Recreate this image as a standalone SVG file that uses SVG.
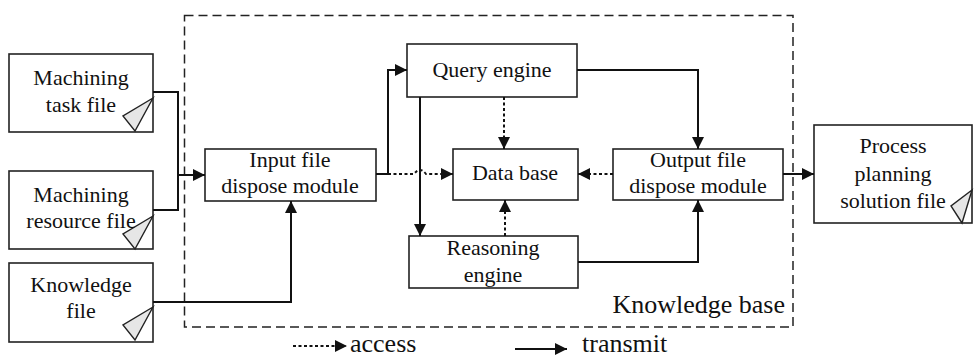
<svg xmlns="http://www.w3.org/2000/svg" width="974" height="358" viewBox="0 0 974 358">
  <defs>
    <marker id="head" viewBox="0 0 12 12" refX="12" refY="6" markerWidth="12" markerHeight="12" markerUnits="userSpaceOnUse" orient="auto">
      <path d="M0,0 L12,6 L0,12 Z" fill="#111" stroke="none"/>
    </marker>
    <!-- file page corner -->
    <polygon id="ear" points="0,0 -30,18 -18,33" fill="#e6e6e6" stroke="#222" stroke-width="1.4"/>
  </defs>

  <rect width="974" height="358" fill="#fff"/>

  <!-- knowledge base boundary -->
  <g id="knowledge-base">
    <rect x="184.5" y="15.5" width="608.5" height="311.5" fill="none" stroke="#222" stroke-width="1.5" stroke-dasharray="9 5"/>
    <text x="785" y="313" font-family="Liberation Serif" font-size="26" fill="#111" text-anchor="end">Knowledge base</text>
  </g>

  <!-- input files -->
  <g id="machining-task-file">
    <rect x="9" y="54" width="144" height="78" fill="#fff" stroke="#222" stroke-width="1.6"/>
    <use href="#ear" x="153" y="98"/>
    <text x="81" y="85" font-family="Liberation Serif" font-size="22" fill="#111" text-anchor="middle">Machining</text>
    <text x="81" y="112" font-family="Liberation Serif" font-size="22" fill="#111" text-anchor="middle">task file</text>
  </g>
  <g id="machining-resource-file">
    <rect x="9" y="171" width="144" height="78" fill="#fff" stroke="#222" stroke-width="1.6"/>
    <use href="#ear" x="153" y="216"/>
    <text x="81" y="202" font-family="Liberation Serif" font-size="22" fill="#111" text-anchor="middle">Machining</text>
    <text x="81" y="228" font-family="Liberation Serif" font-size="22" fill="#111" text-anchor="middle">resource file</text>
  </g>
  <g id="knowledge-file">
    <rect x="9" y="263" width="144" height="79" fill="#fff" stroke="#222" stroke-width="1.6"/>
    <use href="#ear" x="153" y="307"/>
    <text x="81" y="292" font-family="Liberation Serif" font-size="22" fill="#111" text-anchor="middle">Knowledge</text>
    <text x="81" y="318" font-family="Liberation Serif" font-size="22" fill="#111" text-anchor="middle">file</text>
  </g>

  <!-- modules inside the knowledge base -->
  <g id="input-module">
    <rect x="205" y="149" width="171" height="52" fill="#fff" stroke="#222" stroke-width="1.6"/>
    <text x="290" y="167" font-family="Liberation Serif" font-size="22" fill="#111" text-anchor="middle">Input file</text>
    <text x="290" y="193" font-family="Liberation Serif" font-size="22" fill="#111" text-anchor="middle">dispose module</text>
  </g>
  <g id="query-engine">
    <rect x="407" y="44" width="170" height="53" fill="#fff" stroke="#222" stroke-width="1.6"/>
    <text x="492" y="77" font-family="Liberation Serif" font-size="22" fill="#111" text-anchor="middle">Query engine</text>
  </g>
  <g id="data-base">
    <rect x="453" y="149" width="125" height="51" fill="#fff" stroke="#222" stroke-width="1.6"/>
    <text x="515" y="180" font-family="Liberation Serif" font-size="22" fill="#111" text-anchor="middle">Data base</text>
  </g>
  <g id="reasoning-engine">
    <rect x="409" y="236" width="169" height="52" fill="#fff" stroke="#222" stroke-width="1.6"/>
    <text x="493" y="255" font-family="Liberation Serif" font-size="22" fill="#111" text-anchor="middle">Reasoning</text>
    <text x="493" y="282" font-family="Liberation Serif" font-size="22" fill="#111" text-anchor="middle">engine</text>
  </g>
  <g id="output-module">
    <rect x="613" y="149" width="170" height="51" fill="#fff" stroke="#222" stroke-width="1.6"/>
    <text x="698" y="167" font-family="Liberation Serif" font-size="22" fill="#111" text-anchor="middle">Output file</text>
    <text x="698" y="193" font-family="Liberation Serif" font-size="22" fill="#111" text-anchor="middle">dispose module</text>
  </g>

  <!-- output file -->
  <g id="process-planning-file">
    <rect x="814" y="125" width="158" height="98" fill="#fff" stroke="#222" stroke-width="1.6"/>
    <polygon points="972,190 951,206 962,223" fill="#e6e6e6" stroke="#222" stroke-width="1.4"/>
    <text x="893" y="153" font-family="Liberation Serif" font-size="22" fill="#111" text-anchor="middle">Process</text>
    <text x="893" y="181" font-family="Liberation Serif" font-size="22" fill="#111" text-anchor="middle">planning</text>
    <text x="893" y="208" font-family="Liberation Serif" font-size="22" fill="#111" text-anchor="middle">solution file</text>
  </g>

  <!-- connectors: solid = transmit, dotted = access -->
  <g id="connectors" fill="none" stroke="#111" stroke-width="2">
    <!-- task + resource files merge into the input module -->
    <path d="M153,92 H178 V210 H153"/>
    <path d="M178,175 H205" marker-end="url(#head)"/>
    <!-- knowledge file up into the input module -->
    <path d="M153,302 H291 V201" marker-end="url(#head)"/>
    <!-- input module to query engine -->
    <path d="M376,174 H388 V70 H407" marker-end="url(#head)"/>
    <!-- input module accesses data base, hopping over the query/reasoning link -->
    <path d="M388,174 H414 Q420,166 426,174 H453" stroke-dasharray="3 2.5" marker-end="url(#head)"/>
    <!-- query engine to reasoning engine -->
    <path d="M420,97 V236" marker-end="url(#head)"/>
    <!-- query engine accesses data base -->
    <path d="M504,97 V149" stroke-dasharray="3 2.5" marker-end="url(#head)"/>
    <!-- reasoning engine accesses data base -->
    <path d="M505,236 V200" stroke-dasharray="3 2.5" marker-end="url(#head)"/>
    <!-- output module accesses data base -->
    <path d="M613,174 H578" stroke-dasharray="3 2.5" marker-end="url(#head)"/>
    <!-- engines to output module -->
    <path d="M577,70 H698 V149" marker-end="url(#head)"/>
    <path d="M578,262 H698 V200" marker-end="url(#head)"/>
    <!-- output module to solution file -->
    <path d="M783,174 H814" marker-end="url(#head)"/>
  </g>

  <!-- legend -->
  <g id="legend">
    <path d="M293,346 H347" fill="none" stroke="#111" stroke-width="2" stroke-dasharray="3 2.5" marker-end="url(#head)"/>
    <text x="350" y="352" font-family="Liberation Serif" font-size="26" fill="#111">access</text>
    <path d="M515,349 H567" fill="none" stroke="#111" stroke-width="2" marker-end="url(#head)"/>
    <text x="582" y="352" font-family="Liberation Serif" font-size="26" fill="#111">transmit</text>
  </g>
</svg>
